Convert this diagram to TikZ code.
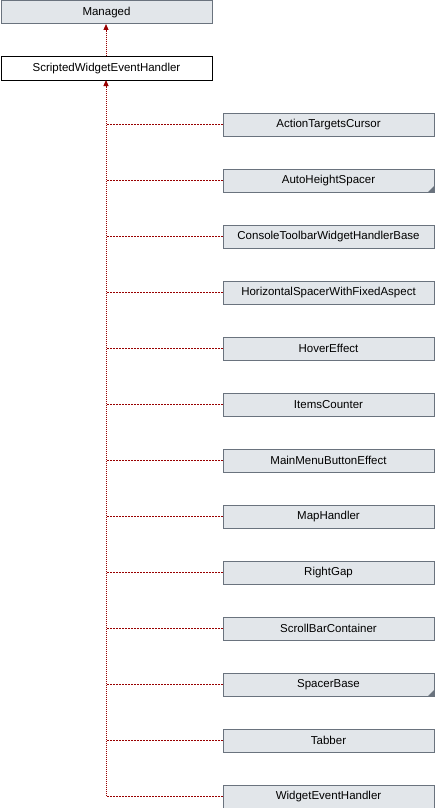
\documentclass[tikz,border=0pt]{standalone}
\usepackage{fontspec}
\setmainfont{Liberation Sans}
\usetikzlibrary{arrows.meta}
\definecolor{boxfill}{HTML}{E2E6EA}
\definecolor{boxline}{HTML}{6A737E}
\definecolor{linkred}{HTML}{990000}
\begin{document}
\begin{tikzpicture}[x=1pt,y=-1pt,
  cls/.style={draw=boxline,fill=boxfill,line width=1pt,minimum width=211pt,minimum height=23pt,inner sep=0pt,font=\fontsize{11.5}{13}\selectfont,anchor=north west},
  main/.style={cls,draw=black,fill=white},
  vlink/.style={draw=linkred,color=linkred,line width=1pt,dash pattern=on 1pt off 1pt},
  hlink/.style={draw=linkred,color=linkred,line width=1pt,dash pattern=on 2pt off 1pt},
  tip/.style={-{Triangle[length=6pt,width=5pt,fill=linkred]}}]
\useasboundingbox (0,0) rectangle (434,808);
\node[cls] (managed) at (0.5,0.5) {Managed};
\node[main] (swe) at (0.5,56.5) {ScriptedWidgetEventHandler};
\coordinate (mtop) at (106,56.5);
\coordinate (mbot) at (106,24);
\draw[vlink,tip] (mtop) -- (mbot);
\foreach \n/\t [count=\i from 0] in {atc/ActionTargetsCursor,ahs/AutoHeightSpacer,ctw/ConsoleToolbarWidgetHandlerBase,hsf/HorizontalSpacerWithFixedAspect,hov/HoverEffect,ict/ItemsCounter,mmb/MainMenuButtonEffect,map/MapHandler,rgp/RightGap,sbc/ScrollBarContainer,spb/SpacerBase,tab/Tabber,weh/WidgetEventHandler}{
  \node[cls] (\n) at (222.5,112.5+56*\i) {\t};
}
\foreach \n in {ahs,spb}{
  \fill[boxline] ([xshift=-0.5pt,yshift=0.5pt]\n.south east) -- ++(-6,0) -- ++(6,-6) -- cycle;
}
\coordinate (trunk) at (106,796);
\coordinate (stop) at (106,80);
\draw[vlink,tip] (trunk) -- (stop);
\foreach \n in {atc,ahs,ctw,hsf,hov,ict,mmb,map,rgp,sbc,spb,tab,weh}{
  \draw[hlink] (\n.west) -- (\n.west -| trunk);
}
\end{tikzpicture}
\end{document}
